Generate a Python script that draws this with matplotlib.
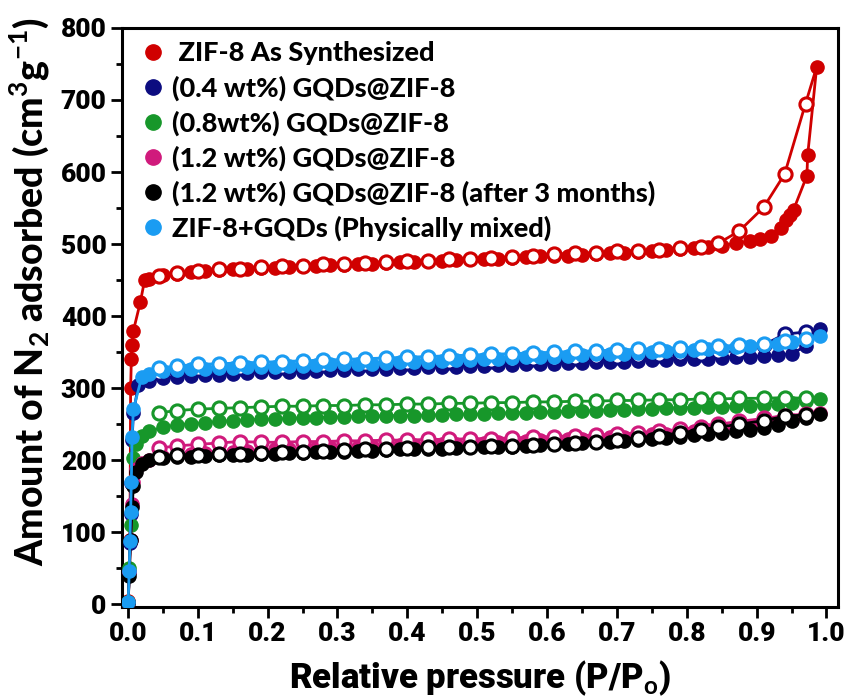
import matplotlib
matplotlib.use("Agg")
import matplotlib.pyplot as plt
from matplotlib.ticker import MultipleLocator
from matplotlib.lines import Line2D

# shared pressure grids
p_ads = [0.03, 0.05, 0.07, 0.09, 0.11, 0.13, 0.15, 0.17, 0.19, 0.21, 0.23, 0.25,
         0.27, 0.29, 0.31, 0.33, 0.35, 0.37, 0.39, 0.41, 0.43, 0.45, 0.47, 0.49,
         0.51, 0.53, 0.55, 0.57, 0.59, 0.61, 0.63, 0.65, 0.67, 0.69, 0.71, 0.73,
         0.75, 0.77, 0.79, 0.81, 0.83, 0.85, 0.87, 0.89]
p_tail = [0.91, 0.93, 0.95, 0.97, 0.99]
p_des = [0.97, 0.94, 0.91, 0.875, 0.845, 0.82, 0.79, 0.76, 0.73, 0.70, 0.67, 0.64,
         0.61, 0.58, 0.55, 0.52, 0.49, 0.46, 0.43, 0.40, 0.37, 0.34, 0.31, 0.28,
         0.25, 0.22, 0.19, 0.16, 0.13, 0.10, 0.07, 0.045]

labels = [" ZIF-8 As Synthesized", "(0.4 wt%) GQDs@ZIF-8", "(0.8wt%) GQDs@ZIF-8",
          "(1.2 wt%) GQDs@ZIF-8", "(1.2 wt%) GQDs@ZIF-8 (after 3 months)",
          "ZIF-8+GQDs (Physically mixed)"]
colors = ["#d00000", "#0c0c80", "#17972a", "#d01a7c", "#000000", "#1a9cf2"]

# ZIF-8 as synthesized
red_low_x = [0.0005, 0.002, 0.003, 0.004, 0.005, 0.006, 0.008, 0.018, 0.024]
red_low_y = [5, 45, 90, 300, 340, 360, 380, 420, 450]
red_mid = [452, 457, 459, 461, 462, 464, 465, 466, 467, 467, 468, 469, 470, 471, 471,
           472, 473, 474, 475, 475, 476, 477, 478, 479, 479, 480, 481, 482, 483, 483,
           484, 485, 486, 487, 488, 489, 491, 492, 493, 495, 496, 498, 501, 504]
red_tail_x = [0.905, 0.92, 0.935, 0.942, 0.948, 0.953, 0.972, 0.973, 0.986]
red_tail_y = [507, 511, 522, 533, 541, 548, 595, 623, 746]
red_des = [695, 597, 551, 518, 501, 496, 494, 492, 491, 490, 488, 487, 486, 484, 482,
           481, 480, 479, 477, 476, 475, 474, 473, 472, 470, 469, 468, 466, 465, 463,
           460, 456]

# 0.4 wt%
navy_low_x = [0.0005, 0.002, 0.003, 0.004, 0.005, 0.006, 0.008, 0.015]
navy_low_y = [3, 45, 85, 125, 168, 228, 265, 305]
navy_mid = [310, 314, 316, 317, 318, 319, 320, 321, 322, 322, 323, 323, 324, 325, 325,
            326, 326, 327, 328, 328, 329, 329, 330, 331, 331, 332, 332, 333, 334, 334,
            335, 335, 336, 337, 337, 338, 339, 339, 340, 341, 341, 342, 343, 344]
navy_tail = [345, 346, 348, 358, 382]
navy_des = [378, 375, 360, 352, 350, 348, 347, 346, 345, 344, 343, 342, 341, 340, 339,
            338, 338, 337, 336, 335, 334, 334, 333, 332, 331, 330, 329, 328, 327, 326,
            324, 321]

# 0.8 wt%
green_low_x = [0.0005, 0.002, 0.004, 0.006, 0.008, 0.012, 0.02]
green_low_y = [3, 50, 110, 170, 203, 222, 234]
green_mid = [240, 246, 249, 251, 252, 254, 255, 256, 257, 257, 258, 259, 259, 260, 260,
             261, 261, 262, 262, 262, 263, 263, 264, 264, 264, 265, 266, 266, 267, 267,
             268, 268, 269, 270, 270, 271, 271, 272, 273, 273, 274, 274, 275, 276]
green_tail = [277, 278, 280, 282, 285]
green_des = [286, 287, 286, 286, 285, 285, 284, 284, 283, 283, 282, 282, 281, 281, 280,
             280, 279, 279, 278, 278, 277, 277, 276, 276, 275, 275, 274, 273, 272, 271,
             269, 266]

# 1.2 wt%
pink_low_x = [0.0005, 0.002, 0.004, 0.006, 0.008, 0.012, 0.02]
pink_low_y = [2, 45, 90, 140, 170, 188, 196]
pink_mid = [200, 205, 207, 209, 210, 211, 212, 213, 214, 215, 216, 216, 217, 218, 218,
            219, 220, 220, 221, 221, 222, 222, 223, 224, 224, 225, 226, 227, 228, 228,
            229, 230, 231, 232, 233, 234, 236, 237, 239, 240, 242, 244, 246, 248]
pink_tail = [250, 253, 256, 260, 265]
pink_des = [264, 262, 258, 254, 250, 246, 243, 240, 238, 236, 235, 234, 233, 232, 231,
            230, 230, 229, 229, 228, 228, 227, 227, 226, 226, 225, 225, 226, 224, 222,
            220, 217]

# 1.2 wt% after 3 months
black_low_x = [0.0005, 0.002, 0.004, 0.006, 0.008, 0.012, 0.02]
black_low_y = [2, 40, 90, 135, 164, 184, 195]
black_mid = [200, 203, 204, 205, 206, 207, 207, 208, 209, 209, 210, 210, 211, 212, 212,
             213, 213, 214, 215, 215, 216, 216, 217, 218, 218, 219, 219, 220, 221, 222,
             223, 224, 225, 226, 227, 228, 230, 231, 233, 235, 236, 238, 240, 242]
black_tail = [245, 249, 254, 259, 264]
black_des = [263, 261, 255, 250, 246, 242, 238, 234, 231, 228, 226, 224, 222, 221, 220,
             220, 219, 218, 218, 217, 216, 215, 214, 213, 212, 211, 210, 209, 209, 208,
             207, 205]

# physically mixed
blue_low_x = [0.0005, 0.002, 0.003, 0.004, 0.005, 0.006, 0.008, 0.02]
blue_low_y = [4, 47, 88, 128, 170, 233, 271, 316]
blue_mid = [320, 324, 325, 326, 327, 328, 328, 329, 330, 330, 331, 331, 332, 333, 333,
            334, 334, 335, 336, 336, 337, 338, 339, 339, 340, 341, 342, 343, 343, 344,
            345, 346, 347, 348, 348, 349, 350, 351, 352, 353, 354, 355, 357, 358]
blue_tail = [360, 362, 364, 367, 372]
blue_des = [368, 365, 362, 360, 358, 357, 356, 355, 354, 353, 352, 351, 350, 349, 348,
            347, 346, 345, 344, 343, 342, 341, 340, 339, 338, 337, 336, 335, 334, 333,
            331, 328]

series = [
    (red_low_x + p_ads + red_tail_x, red_low_y + red_mid + red_tail_y, red_des),
    (navy_low_x + p_ads + p_tail, navy_low_y + navy_mid + navy_tail, navy_des),
    (green_low_x + p_ads + p_tail, green_low_y + green_mid + green_tail, green_des),
    (pink_low_x + p_ads + p_tail, pink_low_y + pink_mid + pink_tail, pink_des),
    (black_low_x + p_ads + p_tail, black_low_y + black_mid + black_tail, black_des),
    (blue_low_x + p_ads + p_tail, blue_low_y + blue_mid + blue_tail, blue_des),
]

narrow = ['Roboto', 'DejaVu Sans']
plt.rcParams['font.family'] = ['Lato', 'DejaVu Sans']
plt.rcParams['font.weight'] = 'bold'
plt.rcParams['mathtext.fontset'] = 'custom'
plt.rcParams['mathtext.rm'] = 'Lato:bold'
plt.rcParams['mathtext.bf'] = 'Lato:bold'

fig = plt.figure(figsize=(8.52, 6.98), dpi=100)
ax = fig.add_axes([0.143, 0.131, 0.841, 0.829])

ms = 9.5
z = 2
for (xa, ya, yd), c in zip(series, colors):
    ax.plot(xa, ya, '-o', color=c, lw=2, ms=ms, mfc=c, mec=c, zorder=z)
    ax.plot([xa[-1]] + p_des, [ya[-1]] + yd, '-', color=c, lw=2, zorder=z + 0.5)
    ax.plot(p_des, yd, 'o', ls='none', ms=ms, mfc='white', mec=c, mew=2.2, zorder=z + 0.6)
    z += 1

ax.set_xlim(-0.0086, 1.017)
ax.set_ylim(-3, 800)
ax.xaxis.set_minor_locator(MultipleLocator(0.05))
ax.yaxis.set_major_locator(MultipleLocator(100))
ax.yaxis.set_minor_locator(MultipleLocator(50))
ax.set_xticks([0.0, 0.1, 0.2, 0.3, 0.4, 0.5, 0.6, 0.7, 0.8, 0.9, 1.0])
ax.set_xticklabels(['0.0', '0.1', '0.2', '0.3', '0.4', '0.5', '0.6', '0.7', '0.8', '0.9', '1.0'])
ax.tick_params(which='major', direction='out', length=8, width=2, pad=3)
ax.tick_params(which='minor', direction='out', length=4, width=2)
for lab in ax.get_xticklabels() + ax.get_yticklabels():
    lab.set_family(narrow)
    lab.set_fontweight('heavy')
    lab.set_fontsize(19)
for s in ax.spines.values():
    s.set_linewidth(2.2)

ax.set_xlabel('Relative pressure (P/P$_\\mathbf{o}$)', fontsize=25, fontweight='heavy',
              family=narrow, labelpad=9)
ax.set_ylabel('Amount of N$_2$ adsorbed (cm$^3$g$^{-1}$)', fontsize=27, fontweight='black',
              labelpad=4)
ax.yaxis.set_label_coords(-0.098, 0.545)

handles = [Line2D([], [], ls='none', marker='o', ms=11, mfc=c, mec=c) for c in colors]
ax.legend(handles, labels, loc='upper left', frameon=False,
          prop={'family': ['Lato', 'DejaVu Sans'], 'weight': 'black', 'size': 19.5},
          handletextpad=0.05, handlelength=1.3, labelspacing=0.36, borderaxespad=0.1,
          bbox_to_anchor=(0.0, 1.0))

fig.savefig('out.png', dpi=100)
